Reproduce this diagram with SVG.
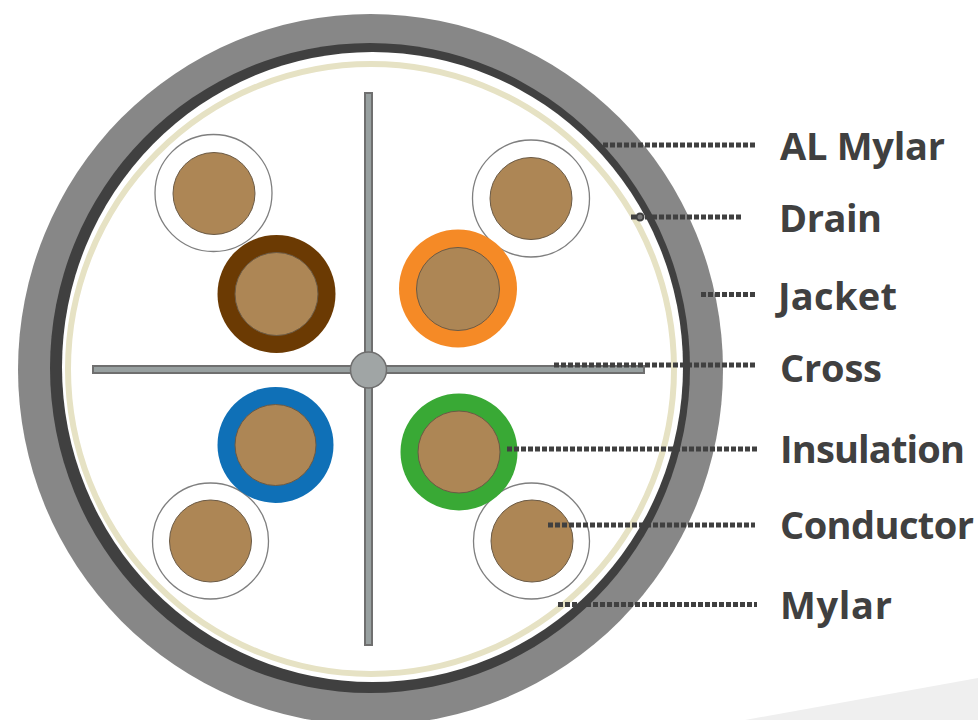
<svg xmlns="http://www.w3.org/2000/svg" width="978" height="720" viewBox="0 0 978 720">
<style>
.pair{fill:#fff;stroke:#7f7f7f;stroke-width:1.3}
.cond{fill:#ad8655;stroke:#6b5a45;stroke-width:1}
.lead{fill:none;stroke:#404040;stroke-width:5;stroke-dasharray:5 2}
.bar{fill:#98a0a0;stroke:#6f6f6f;stroke-width:2}
text{font-family:"Open Sans","Noto Sans",sans-serif;font-size:38px;font-weight:700;fill:#404040}
</style>
<rect width="978" height="720" fill="#fff"/>
<path d="M745 720L978 678V720Z" fill="#efefef"/>
<g id="jacket"><ellipse cx="370.500" cy="369.500" rx="352.500" ry="355.500" fill="#878787"/></g>
<g id="al-mylar"><ellipse cx="370" cy="368" rx="320" ry="325" fill="#404040"/><ellipse cx="372.500" cy="367" rx="310.500" ry="315" fill="#fff"/></g>
<g id="mylar"><ellipse cx="371" cy="369" rx="303" ry="305" fill="none" stroke="#e6e2c4" stroke-width="6"/></g>
<g id="cross">
<rect class="bar" x="365" y="93" width="7" height="552"/>
<rect class="bar" x="93" y="366" width="551" height="7"/>
<circle cx="368.500" cy="370" r="18" fill="#a0a5a5" stroke="#6f6f6f" stroke-width="1.500"/>
</g>
<g id="pair-white-tl"><circle class="pair" cx="213.500" cy="193" r="58.500"/><circle class="cond" cx="214" cy="193.500" r="41"/></g>
<g id="pair-white-tr"><circle class="pair" cx="531" cy="198.500" r="58.500"/><circle class="cond" cx="531" cy="198.500" r="41"/></g>
<g id="pair-white-bl"><circle class="pair" cx="210.500" cy="541" r="58"/><circle class="cond" cx="210.500" cy="541" r="41"/></g>
<g id="pair-white-br"><circle class="pair" cx="531.500" cy="541" r="58"/><circle class="cond" cx="532" cy="541" r="41"/></g>
<g id="pair-brown"><circle cx="276.500" cy="294" r="59" fill="#6b3a03"/><circle class="cond" cx="276.500" cy="294" r="41.500"/></g>
<g id="pair-orange"><circle cx="458" cy="288.500" r="59" fill="#f58a26"/><circle class="cond" cx="458" cy="289" r="41.500"/></g>
<g id="pair-blue"><circle cx="275.500" cy="445" r="58" fill="#0f70b7"/><circle class="cond" cx="275.500" cy="445" r="40.500"/></g>
<g id="pair-green"><circle cx="459" cy="452" r="58.500" fill="#39a935"/><circle class="cond" cx="459" cy="452" r="41"/></g>
<g id="connectors">
<path class="lead" d="M603 145H755"/>
<path class="lead" d="M631 217H741"/>
<circle cx="640" cy="217" r="3.500" fill="#777" stroke="#404040" stroke-width="2"/>
<path class="lead" d="M701 294.500H757"/>
<path class="lead" d="M554 365H757"/>
<path class="lead" d="M507 449H757"/>
<path class="lead" d="M548 525H755"/>
<path class="lead" d="M558 604.500H757"/>
</g>
<g id="labels">
<text x="780" y="160" textLength="165">AL Mylar</text>
<text x="779" y="232" textLength="103">Drain</text>
<text x="778" y="310" textLength="119">Jacket</text>
<text x="780" y="382" textLength="102">Cross</text>
<text x="780" y="463" textLength="185">Insulation</text>
<text x="780" y="539" textLength="194">Conductor</text>
<text x="780" y="619" textLength="112">Mylar</text>
</g>
</svg>
